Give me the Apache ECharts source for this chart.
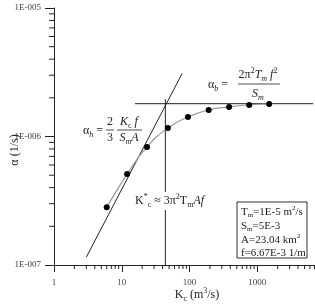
<!DOCTYPE html>
<html>
<head>
<meta charset="utf-8">
<script src="https://cdn.jsdelivr.net/npm/echarts@6/dist/echarts.min.js"></script>
<style>
  html, body { margin: 0; padding: 0; background: #fff; }
  #chart { width: 315px; height: 304px; }
</style>
</head>
<body>
<div id="chart"></div>
<script>
// measured points
var kc = [6, 12, 23.6, 48, 95, 192, 384, 760, 1500];
var alpha = [2.82e-7, 5.1e-7, 8.3e-7, 1.165e-6, 1.42e-6, 1.61e-6, 1.70e-6, 1.76e-6, 1.79e-6];
// asymptotes
var hKc = [3, 78];
var hAlpha = [1.15e-7, 3.1e-6];
var bKc = [15.7, 6700];
var bAlpha = [1.8e-6, 1.8e-6];
var starKc = [44, 44];
var starAlpha = [1e-7, 1.95e-6];
// axis decades
var xDecades = [1, 10, 100, 1000];
var yDecades = [1e-7, 1e-6];

var serif = "Liberation Serif";
var ink = "#222";

// minor tick values (2..9 of each decade)
var xMinor = [];
xDecades.forEach(function (d) {
  for (var m = 2; m <= 9; m++) xMinor.push([d * m]);
});
var yMinor = [];
yDecades.forEach(function (d) {
  for (var m = 2; m <= 9; m++) yMinor.push([d * m]);
});

var rich = {
  n: { fontFamily: serif, fontSize: 12, lineHeight: 16, fill: ink },
  i: { fontFamily: serif, fontSize: 12, lineHeight: 16, fontStyle: "italic", fill: ink },
  sub: { fontFamily: serif, fontSize: 8, lineHeight: 8, verticalAlign: "bottom", fill: ink },
  isub: { fontFamily: serif, fontSize: 8, lineHeight: 8, verticalAlign: "bottom", fontStyle: "italic", fill: ink },
  sup: { fontFamily: serif, fontSize: 8, lineHeight: 8, verticalAlign: "top", fill: ink },
  bn: { fontFamily: serif, fontSize: 11, lineHeight: 14, fill: ink },
  bsub: { fontFamily: serif, fontSize: 7, lineHeight: 7, verticalAlign: "bottom", fill: ink },
  bsup: { fontFamily: serif, fontSize: 7, lineHeight: 7, verticalAlign: "top", fill: ink }
};

function txt(x, y, text, align) {
  return {
    type: "text",
    x: x,
    y: y,
    z: 100,
    style: {
      text: text,
      rich: rich,
      textAlign: align || "left",
      textVerticalAlign: "middle",
      fill: ink,
      font: "12px " + serif
    }
  };
}
function bar(x1, x2, y) {
  return {
    type: "line",
    z: 100,
    shape: { x1: x1, y1: y, x2: x2, y2: y },
    style: { stroke: ink, lineWidth: 0.8 }
  };
}

var chart = echarts.init(document.getElementById("chart"));

chart.setOption({
  animation: false,
  grid: { left: 54, right: -10, top: 8, bottom: 39, outerBoundsMode: "none", containLabel: false },
  xAxis: {
    type: "log",
    logBase: 10,
    min: 1,
    max: 10000,
    axisLine: { lineStyle: { color: ink, width: 1 } },
    axisTick: { show: true, length: 7, lineStyle: { color: ink } },
    splitLine: { show: false },
    axisLabel: {
      margin: 13,
      fontFamily: serif,
      fontSize: 9,
      color: "#444",
      formatter: function (v) { return v > 5000 ? "" : String(Math.round(v)); }
    }
  },
  yAxis: {
    type: "log",
    logBase: 10,
    min: 1e-7,
    max: 1e-5,
    axisLine: { lineStyle: { color: ink, width: 1 } },
    axisTick: { show: true, length: 9, lineStyle: { color: ink } },
    splitLine: { show: false },
    axisLabel: {
      margin: 13,
      fontFamily: serif,
      fontSize: 9,
      color: "#444",
      formatter: function (v) {
        var e = Math.round(-Math.log10(v));
        return "1E-" + String(e).padStart(3, "0");
      }
    }
  },
  series: [
    {
      type: "line",
      data: kc.map(function (k, i) { return [k, alpha[i]]; }),
      smooth: true,
      symbol: "circle",
      symbolSize: 6,
      itemStyle: { color: "#000" },
      lineStyle: { color: "#999", width: 1.2 },
      z: 5
    },
    {
      type: "line",
      data: hKc.map(function (k, i) { return [k, hAlpha[i]]; }),
      symbol: "none",
      lineStyle: { color: ink, width: 1 },
      clip: false,
      z: 3
    },
    {
      type: "line",
      data: bKc.map(function (k, i) { return [k, bAlpha[i]]; }),
      symbol: "none",
      lineStyle: { color: ink, width: 1 },
      z: 3
    },
    {
      type: "line",
      data: starKc.map(function (k, i) { return [k, starAlpha[i]]; }),
      symbol: "none",
      lineStyle: { color: ink, width: 1 },
      z: 3
    },
    {
      type: "custom",
      clip: false,
      silent: true,
      data: xMinor,
      renderItem: function (params, api) {
        var p = api.coord([api.value(0), 1e-7]);
        return {
          type: "line",
          shape: { x1: p[0], y1: p[1], x2: p[0], y2: p[1] + 4 },
          style: { stroke: ink, lineWidth: 1 }
        };
      }
    },
    {
      type: "custom",
      clip: false,
      silent: true,
      data: yMinor,
      renderItem: function (params, api) {
        var p = api.coord([1, api.value(0)]);
        return {
          type: "line",
          shape: { x1: p[0], y1: p[1], x2: p[0] - 5, y2: p[1] },
          style: { stroke: ink, lineWidth: 1 }
        };
      }
    }
  ],
  graphic: [
    // axis titles
    {
      type: "text",
      x: 15,
      y: 150,
      rotation: Math.PI / 2,
      z: 100,
      style: {
        text: "α (1/s)",
        font: "12px " + serif,
        fill: ink,
        textAlign: "center",
        textVerticalAlign: "middle"
      }
    },
    txt(197, 295, "{n|K}{sub|c}{n| (m}{sup|3}{n|/s)}", "center"),
    // alpha_h formula
    txt(83, 131, "{n|α}{isub|h}{n| =}"),
    txt(110, 122, "{n|2}", "center"),
    bar(106, 114, 130),
    txt(110, 138, "{n|3}", "center"),
    txt(129, 122, "{i|K}{sub|c}{i| f}", "center"),
    bar(117, 142, 130),
    txt(129, 138, "{i|S}{isub|m}{i|A}", "center"),
    // alpha_b formula
    txt(208, 85, "{n|α}{isub|b}{n| =}"),
    txt(258, 75, "{n|2π}{sup|2}{i|T}{isub|m}{i| f}{sup|2}", "center"),
    bar(238, 280, 84),
    txt(258, 94, "{i|S}{isub|m}", "center"),
    // critical Kc label, with white ground over the vertical line
    {
      type: "text",
      x: 133,
      y: 201,
      z: 100,
      style: {
        text: "{n|K}{sup|*}{sub|c}{n| ≈ 3π}{sup|2}{n|T}{sub|m}{i|Af}",
        rich: rich,
        textVerticalAlign: "middle",
        backgroundColor: "#fff",
        padding: [1, 2, 1, 2],
        font: "12px " + serif
      }
    },
    // parameter box
    {
      type: "rect",
      z: 99,
      shape: { x: 237, y: 202, width: 70, height: 56 },
      style: { fill: "#fff", stroke: "#333", lineWidth: 1 }
    },
    txt(241, 212, "{bn|T}{bsub|m}{bn|=1E-5 m}{bsup|2}{bn|/s}"),
    txt(241, 226, "{bn|S}{bsub|m}{bn|=5E-3}"),
    txt(241, 240, "{bn|A=23.04 km}{bsup|2}"),
    txt(241, 253, "{bn|f=6.67E-3 1/m}")
  ]
});
</script>
</body>
</html>
